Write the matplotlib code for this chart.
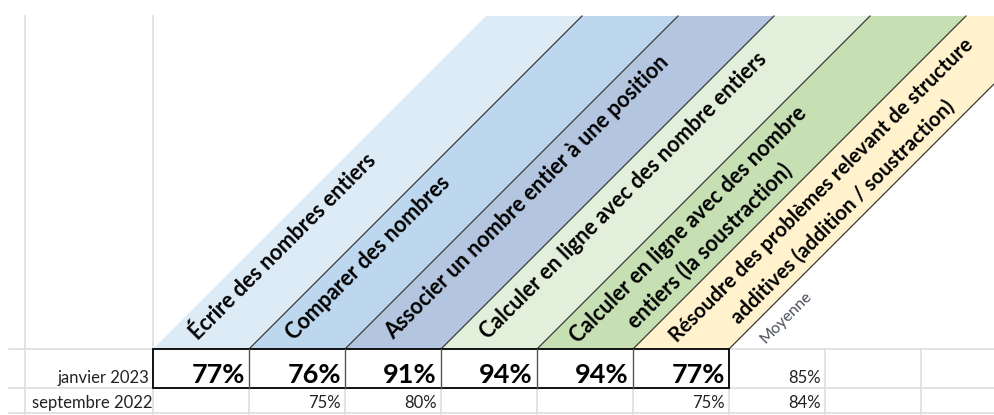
import matplotlib
matplotlib.use("Agg")
import matplotlib.pyplot as plt
from matplotlib.patches import Polygon, Rectangle

plt.rcParams['font.family'] = ['Lato', 'DejaVu Sans']

# data
categories = [
    "Écrire des nombres entiers",
    "Comparer des nombres",
    "Associer un nombre entier à une position",
    "Calculer en ligne avec des nombre entiers",
    "Calculer en ligne avec des nombre\nentiers (la soustraction)",
    "Résoudre des problèmes relevant de structure\nadditives (addition / soustraction)",
]
rows = ["janvier 2023", "septembre 2022"]
jan = [77, 76, 91, 94, 94, 77]
jan_moy = 85
sep = [None, 75, 80, None, None, 75]
sep_moy = 84
band_colors = ["#DDEBF7", "#BDD7EE", "#B4C5DF", "#E2EFDA", "#C6E0B4", "#FFF2CC"]

# layout (pixel coords)
W, H = 995, 415
col_w = 96
x0 = 153
top, hdr_bot, r1_bot, r2_bot = 16, 349, 388, 413
slant = hdr_bot - top
label_pos = [(283, 247), (368, 258), (527, 197), (623, 196), (699, 235), (832, 201)]
label_size = [15.5, 15.5, 15.5, 15.5, 15.5, 14.8]
line_gap = 30  # px between lines of a label, perpendicular to text

fig = plt.figure(figsize=(W / 100, H / 100), dpi=100)
ax = fig.add_axes([0, 0, 1, 1])
ax.set_xlim(0, W)
ax.set_ylim(H, 0)
ax.axis("off")

grid = "#dedede"
# gridlines
for x in [25, 153]:
    ax.plot([x, x], [top, H], color=grid, lw=1.2, zorder=1)
for x in [249, 345, 441, 537, 633, 729, 825, 921]:
    ax.plot([x, x], [hdr_bot, H], color=grid, lw=1.2, zorder=1)
for y in [hdr_bot, r1_bot, r2_bot]:
    ax.plot([9, W], [y, y], color=grid, lw=1.2, zorder=1)

# slanted header bands
for i, c in enumerate(band_colors):
    xl = x0 + i * col_w
    poly = Polygon([(xl, hdr_bot), (xl + col_w, hdr_bot),
                    (xl + col_w + slant, top), (xl + slant, top)],
                   closed=True, facecolor=c, edgecolor="none", zorder=2)
    ax.add_patch(poly)
for i in range(1, len(band_colors) + 1):
    xl = x0 + i * col_w
    ax.plot([xl, xl + slant], [hdr_bot, top], color="#3c3c3c", lw=0.9, zorder=3)

# header labels (each line drawn on its own, shifted perpendicular to the text)
for lab, (cx, cy), fs in zip(categories, label_pos, label_size):
    lines = lab.split("\n")
    n = len(lines)
    for k, ln in enumerate(lines):
        off = (k - (n - 1) / 2) * line_gap / 2 ** 0.5
        ax.text(cx + off, cy + off, ln, rotation=45, rotation_mode="anchor",
                ha="center", va="center", fontsize=fs, fontweight="bold",
                color="black", zorder=4)
ax.text(786, 317, "Moyenne", rotation=45, rotation_mode="anchor", ha="center", va="center",
        fontsize=11.5, color="#4a4f58", zorder=4)

# janvier row box
ax.add_patch(Rectangle((x0, hdr_bot), col_w * len(jan), r1_bot - hdr_bot,
                       facecolor="white", edgecolor="black", lw=1.3, zorder=3))
for i in range(1, len(jan)):
    xl = x0 + i * col_w
    ax.plot([xl, xl], [hdr_bot, r1_bot], color="#555555", lw=1.0, zorder=4)

# row labels
ax.text(149, 383, rows[0], ha="right", va="baseline", fontsize=12, color="#222222")
ax.text(152, 408, rows[1], ha="right", va="baseline", fontsize=12, color="#222222")

# values
for i, v in enumerate(jan):
    ax.text(x0 + (i + 1) * col_w - 4, 383, f"{v}%", ha="right", va="baseline",
            fontsize=19.5, fontweight="bold", color="black", zorder=5)
ax.text(x0 + 7 * col_w - 4, 383, f"{jan_moy}%", ha="right", va="baseline",
        fontsize=12, color="#222222")
for i, v in enumerate(sep):
    if v is not None:
        ax.text(x0 + (i + 1) * col_w - 4, 408, f"{v}%", ha="right", va="baseline",
                fontsize=12, color="#222222")
ax.text(x0 + 7 * col_w - 4, 408, f"{sep_moy}%", ha="right", va="baseline",
        fontsize=12, color="#222222")

fig.savefig("out.png", dpi=100)
